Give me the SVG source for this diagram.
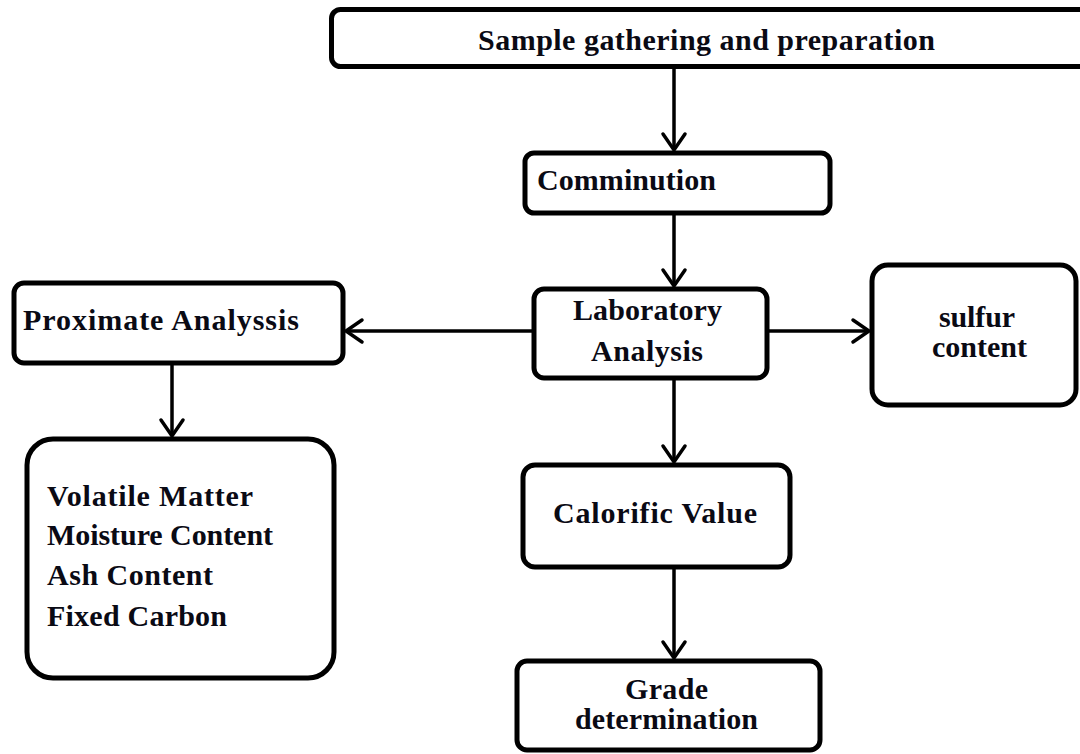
<svg xmlns="http://www.w3.org/2000/svg" width="1080" height="754" viewBox="0 0 1080 754">
<style>
.box{fill:#fff;stroke:#000;stroke-width:5}
.lbl{font-family:"Liberation Serif","Times New Roman",serif;font-weight:bold;font-size:30px;fill:#0a0a14}
.con{stroke:#000;stroke-width:3.5;fill:none}
</style>
<defs>
<marker id="ah" markerUnits="userSpaceOnUse" markerWidth="30" markerHeight="30" viewBox="-20 -15 24 30" refX="0" refY="0" orient="auto">
<path d="M-16,-11 L0,0 L-16,11" fill="none" stroke="#000" stroke-width="3.5" stroke-linecap="round" stroke-linejoin="miter"/>
</marker>
</defs>
<rect width="1080" height="754" fill="#fff"/>
<g id="connectors">
<line class="con" x1="674" y1="67" x2="674" y2="150" marker-end="url(#ah)"/>
<line class="con" x1="674" y1="213" x2="674" y2="286" marker-end="url(#ah)"/>
<line class="con" x1="534" y1="331" x2="346" y2="331" marker-end="url(#ah)"/>
<line class="con" x1="767" y1="331" x2="869" y2="331" marker-end="url(#ah)"/>
<line class="con" x1="172" y1="363" x2="172" y2="436" marker-end="url(#ah)"/>
<line class="con" x1="674" y1="378" x2="674" y2="462" marker-end="url(#ah)"/>
<line class="con" x1="674" y1="567" x2="674" y2="658" marker-end="url(#ah)"/>
</g>
<g id="sample">
<rect class="box" x="331.5" y="9.5" width="770" height="57" rx="9"/>
<text class="lbl" x="478" y="50" textLength="457" lengthAdjust="spacing">Sample gathering and preparation</text>
</g>
<g id="comminution">
<rect class="box" x="525" y="153" width="305" height="60" rx="9"/>
<text class="lbl" x="537" y="190" textLength="179" lengthAdjust="spacing">Comminution</text>
</g>
<g id="laboratory">
<rect class="box" x="534" y="289" width="233" height="89" rx="10"/>
<text class="lbl" x="573" y="320" textLength="149" lengthAdjust="spacing">Laboratory</text>
<text class="lbl" x="591" y="361" textLength="112" lengthAdjust="spacing">Analysis</text>
</g>
<g id="proximate">
<rect class="box" x="14" y="283" width="329" height="80" rx="10"/>
<text class="lbl" x="23" y="330" textLength="276" lengthAdjust="spacing">Proximate  Analyssis</text>
</g>
<g id="sulfur">
<rect class="box" x="872" y="265" width="204" height="140" rx="16"/>
<text class="lbl" x="939" y="327" textLength="76" lengthAdjust="spacing">sulfur</text>
<text class="lbl" x="932" y="357" textLength="95" lengthAdjust="spacing">content</text>
</g>
<g id="components">
<rect class="box" x="27" y="439" width="307" height="239" rx="26"/>
<text class="lbl" x="47" y="506" textLength="206" lengthAdjust="spacing">Volatile Matter</text>
<text class="lbl" x="47" y="545" textLength="226" lengthAdjust="spacing">Moisture Content</text>
<text class="lbl" x="47" y="585" textLength="166" lengthAdjust="spacing">Ash Content</text>
<text class="lbl" x="47" y="626" textLength="180" lengthAdjust="spacing">Fixed Carbon</text>
</g>
<g id="calorific">
<rect class="box" x="523" y="465" width="267" height="102" rx="12"/>
<text class="lbl" x="553" y="523" textLength="204" lengthAdjust="spacing">Calorific  Value</text>
</g>
<g id="grade">
<rect class="box" x="517" y="661" width="303" height="89" rx="10"/>
<text class="lbl" x="625" y="699" textLength="83" lengthAdjust="spacing">Grade</text>
<text class="lbl" x="575" y="729" textLength="183" lengthAdjust="spacing">determination</text>
</g>
</svg>
